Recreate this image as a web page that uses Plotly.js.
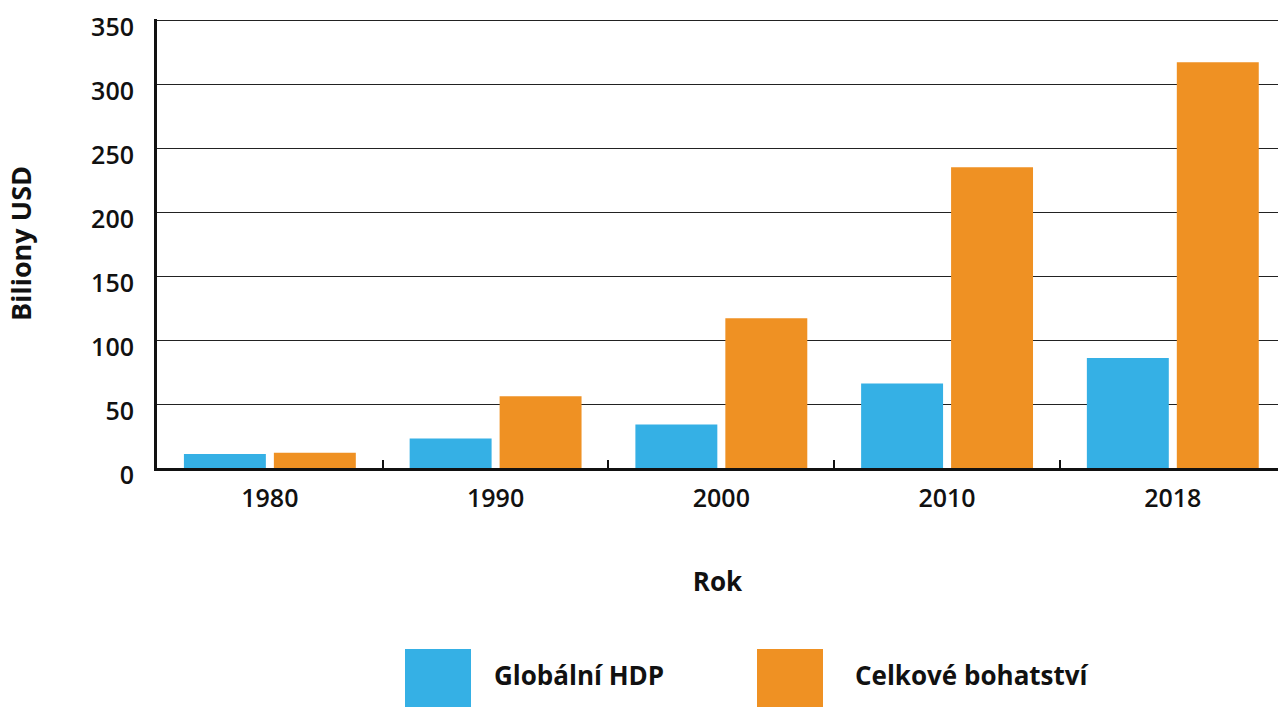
<!DOCTYPE html>
<html>
<head>
<meta charset="utf-8">
<script src="https://cdn.plot.ly/plotly-3.0.1.min.js"></script>
<style>html,body{margin:0;padding:0;background:#fff;}#chart{width:1278px;height:707px;}</style>
</head>
<body>
<div id="chart"></div>
<script>
const years = ["1980", "1990", "2000", "2010", "2018"];
const gdpName = "Globální HDP";
const wealthName = "Celkové bohatství";
const gdpValues = [11, 23, 34, 66, 86];
const wealthValues = [12, 56, 117, 235, 317];
const yTicks = [0, 50, 100, 150, 200, 250, 300, 350];
const gdpColor = "#35B0E5";
const wealthColor = "#EF9123";

const FONT = "Open Sans, Noto Sans, sans-serif";

const traces = [
  {type: "bar", name: gdpName, x: years, y: gdpValues, marker: {color: gdpColor}, showlegend: false, hoverinfo: "x+y+name"},
  {type: "bar", name: wealthName, x: years, y: wealthValues, marker: {color: wealthColor}, showlegend: false, hoverinfo: "x+y+name"}
];

const layout = {
  width: 1278, height: 707,
  margin: {l: 157, r: 0, t: 19, b: 239},
  paper_bgcolor: "#fff", plot_bgcolor: "#fff",
  font: {family: FONT, color: "#111", size: 25, weight: 600},
  barmode: "group",
  bargap: 0.203,
  bargroupgap: 0.089,
  xaxis: {
    type: "category",
    range: [-0.5, 4.466],
    showline: true, linecolor: "#111", linewidth: 3,
    ticks: "inside", tickson: "boundaries", ticklen: 8, tickwidth: 2, tickcolor: "#111",
    showgrid: false, zeroline: false,
    tickfont: {family: FONT, size: 25, weight: 600, color: "#111"},
    ticklabelstandoff: 6,
    title: {text: "Rok", font: {family: FONT, size: 26, weight: 700, color: "#111"}, standoff: 60},
    fixedrange: true
  },
  yaxis: {
    range: [0, 350.8],
    tickvals: yTicks,
    showline: true, linecolor: "#111", linewidth: 3,
    showgrid: true, gridcolor: "#222", gridwidth: 1.3,
    zeroline: false, ticks: "",
    tickfont: {family: FONT, size: 25, weight: 600, color: "#111"},
    ticklabelstandoff: 15,
    ticklabelshift: 7,
    title: {text: "Biliony USD", font: {family: FONT, size: 27, weight: 700, color: "#111"}, standoff: 52},
    fixedrange: true
  },
  shapes: [
    {type: "rect", xref: "paper", yref: "paper", x0: (405-157)/1121, x1: (471-157)/1121, y0: -(649-468)/449, y1: -(707-468)/449, fillcolor: gdpColor, line: {width: 0}},
    {type: "rect", xref: "paper", yref: "paper", x0: (757-157)/1121, x1: (823-157)/1121, y0: -(649-468)/449, y1: -(707-468)/449, fillcolor: wealthColor, line: {width: 0}}
  ],
  annotations: [
    {xref: "paper", yref: "paper", x: (492-157)/1121, y: -(675-468)/449, xanchor: "left", yanchor: "middle", text: gdpName, showarrow: false, font: {family: FONT, size: 26, weight: 700, color: "#111"}},
    {xref: "paper", yref: "paper", x: (853-157)/1121, y: -(675-468)/449, xanchor: "left", yanchor: "middle", text: wealthName, showarrow: false, font: {family: FONT, size: 26, weight: 700, color: "#111"}}
  ]
};

Plotly.newPlot("chart", traces, layout, {displayModeBar: false});
</script>
</body>
</html>
